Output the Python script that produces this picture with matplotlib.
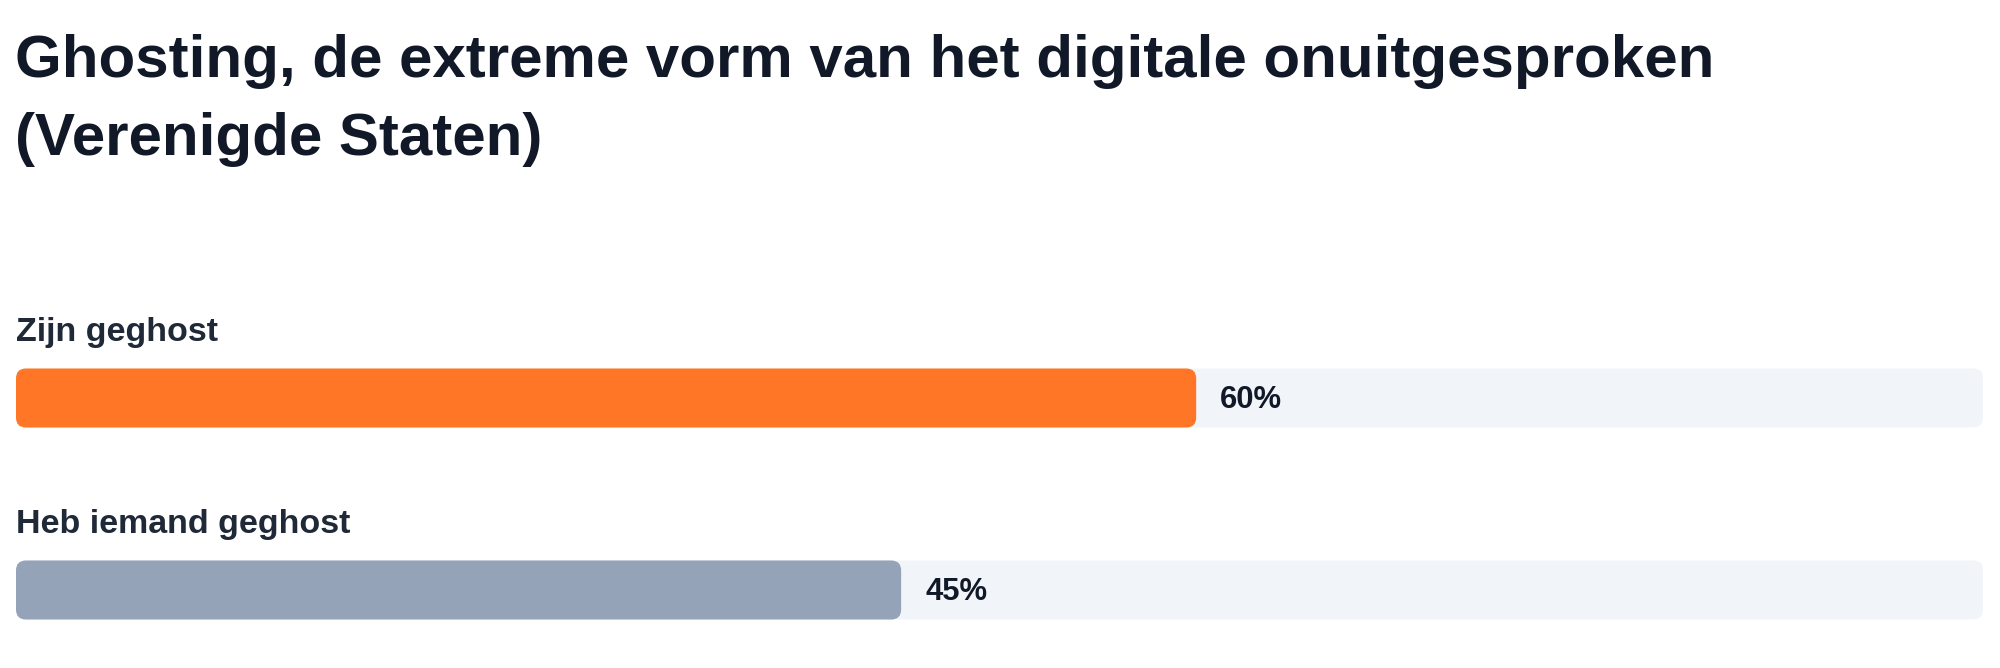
import matplotlib
matplotlib.use("Agg")
import matplotlib.pyplot as plt
from matplotlib.patches import FancyBboxPatch

title_lines = ["Ghosting, de extreme vorm van het digitale onuitgesproken", "(Verenigde Staten)"]
categories = ["Zijn geghost", "Heb iemand geghost"]
values = [60, 45]
value_labels = ["60%", "45%"]
bar_colors = ["#FF7627", "#94A3B8"]

W, H = 2000, 668
DPI = 100
fig = plt.figure(figsize=(W / DPI, H / DPI), dpi=DPI)
fig.patch.set_facecolor("white")
plt.rcParams["font.family"] = ["Liberation Sans", "DejaVu Sans"]

# axes: x = percent (0..100) across track pixels 16..1983, y = pixel rows (inverted)
left_px, right_px = 16, 1983
ax = fig.add_axes([left_px / W, 0, (right_px - left_px) / W, 1])
ax.set_xlim(0, 100)
ax.set_ylim(H, 0)
ax.axis("off")

px_per_x = (right_px - left_px) / 100.0
aspect = px_per_x  # y unit = 1 px
radius_px = 10
r = radius_px / px_per_x

bar_h = 59
first_center = 398
step = 192

for i, (cat, v, lab, col) in enumerate(zip(categories, values, value_labels, bar_colors)):
    yc = first_center + i * step
    y0 = yc - bar_h / 2
    # track
    track = FancyBboxPatch((0, y0), 100, bar_h,
                           boxstyle=f"round,pad=0,rounding_size={r}",
                           mutation_aspect=aspect, fc="#F1F5F9", ec="none", zorder=1)
    ax.add_patch(track)
    bar = FancyBboxPatch((0, y0), v, bar_h,
                         boxstyle=f"round,pad=0,rounding_size={r}",
                         mutation_aspect=aspect, fc=col, ec="none", zorder=2)
    ax.add_patch(bar)
    ax.text(v + 24 / px_per_x, yc + 2, lab, fontsize=22.3, fontweight="bold",
            color="#111827", va="center", ha="left", zorder=3)
    ax.text(0, y0 - 28, cat, fontsize=24.5, fontweight="bold",
            color="#1F2937", va="baseline", ha="left", zorder=3)

for j, line in enumerate(title_lines):
    fig.text(15 / W, 1 - (77 + j * 78) / H, line, fontsize=43.2, fontweight="bold",
             color="#111827", va="baseline", ha="left")

fig.savefig("out.png", dpi=DPI, facecolor="white")
